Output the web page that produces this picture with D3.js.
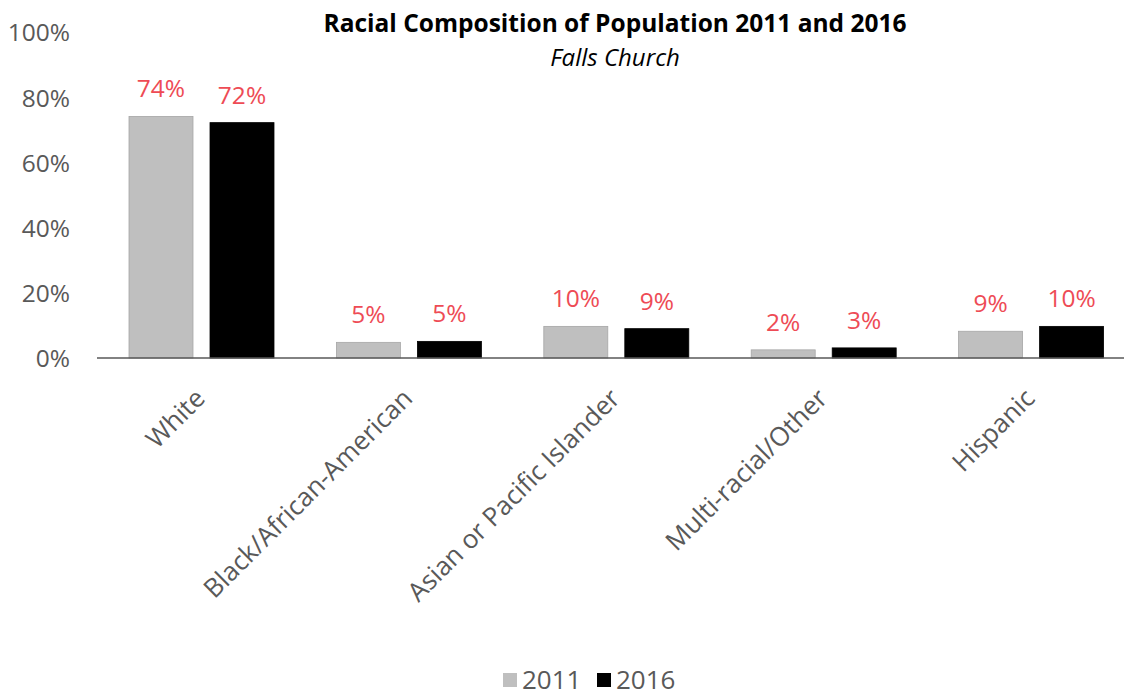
<!DOCTYPE html>
<html>
<head>
<meta charset="utf-8">
<script src="https://cdn.jsdelivr.net/npm/d3@7"></script>
<style>
  body { margin: 0; background: #fff; }
  text { font-family: "Open Sans", Calibri, sans-serif; }
</style>
</head>
<body>
<svg width="1124" height="694"></svg>
<script>
var svg = d3.select("svg");

// data
var categories = ["White", "Black/African-American", "Asian or Pacific Islander", "Multi-racial/Other", "Hispanic"];
var years = ["2011", "2016"];
var values2011 = [0.741, 0.048, 0.097, 0.025, 0.082];
var values2016 = [0.722, 0.051, 0.090, 0.031, 0.097];
var labels2011 = ["74%", "5%", "10%", "2%", "9%"];
var labels2016 = ["72%", "5%", "9%", "3%", "10%"];
var yTicks = [0, 0.2, 0.4, 0.6, 0.8, 1];
var colors = ["#bfbfbf", "#000000"];

var rows = categories.map(function(c, i){
    return [
        { cat: c, year: "2011", v: values2011[i], label: labels2011[i] },
        { cat: c, year: "2016", v: values2016[i], label: labels2016[i] }
    ];
});

var x0 = d3.scaleBand().domain(categories).range([98, 1135]);
var x1 = d3.scaleBand().domain(years).range([31, 176]).paddingInner(0.21);
var y = d3.scaleLinear().domain([0, 1]).range([358, 32]);
var color = d3.scaleOrdinal().domain(years).range(colors);

// y axis labels only
var yAxis = svg.append("g")
    .attr("transform", "translate(70,0)")
    .call(d3.axisLeft(y).tickValues(yTicks).tickFormat(d3.format(".0%")).tickSize(0).tickPadding(0));
yAxis.select(".domain").remove();
yAxis.selectAll("text")
    .attr("fill", "#595959")
    .style("font-size", "24.5px")
    .attr("dy", "0.36em");

// bars
var group = svg.append("g").selectAll("g")
    .data(rows)
    .enter()
    .append("g")
    .attr("transform", function(d){
        return "translate(" + x0(d[0].cat) + ",0)";
    });

group.selectAll("rect")
    .data(function(d){ return d; })
    .enter()
    .append("rect")
    .attr("x", function(d){ return x1(d.year); })
    .attr("y", function(d){ return y(d.v); })
    .attr("width", x1.bandwidth())
    .attr("height", function(d){ return y(0) - y(d.v); })
    .attr("fill", function(d){ return color(d.year); })
    .attr("stroke", function(d){ return d.year == "2011" ? "#a6a6a6" : "#000"; })
    .attr("stroke-width", 0.8);

group.selectAll("text.val")
    .data(function(d){ return d; })
    .enter()
    .append("text")
    .attr("class", "val")
    .attr("x", function(d){ return x1(d.year) + x1.bandwidth() / 2; })
    .attr("y", function(d){ return y(d.v) - 19; })
    .attr("text-anchor", "middle")
    .attr("fill", "#ee4b55")
    .style("font-size", "24.5px")
    .text(function(d){ return d.label; });

// x axis line + rotated labels
var xAxis = svg.append("g")
    .attr("transform", "translate(0,358)")
    .call(d3.axisBottom(x0).tickSize(0).tickPadding(0));
xAxis.select(".domain")
    .attr("d", "M97,0H1124")
    .attr("stroke", "#595959")
    .attr("stroke-width", 1.5);
xAxis.selectAll("text")
    .attr("fill", "#595959")
    .style("font-size", "26px")
    .attr("text-anchor", "end")
    .attr("dy", null)
    .attr("y", null)
    .attr("transform", "translate(5,42) rotate(-45)");

// title
svg.append("text")
    .attr("x", 615)
    .attr("y", 32)
    .attr("text-anchor", "middle")
    .style("font-size", "24.5px")
    .style("font-weight", "bold")
    .attr("fill", "#000")
    .text("Racial Composition of Population 2011 and 2016");
svg.append("text")
    .attr("x", 615)
    .attr("y", 66)
    .attr("text-anchor", "middle")
    .style("font-size", "24px")
    .style("font-style", "italic")
    .attr("fill", "#000")
    .text("Falls Church");

// legend
var legend = svg.append("g").selectAll("g")
    .data(years)
    .enter()
    .append("g")
    .attr("transform", function(d, i){
        return "translate(" + (503 + i * 94) + ",673)";
    });
legend.append("rect")
    .attr("width", 14)
    .attr("height", 14)
    .attr("fill", function(d){ return color(d); });
legend.append("text")
    .attr("x", 19)
    .attr("y", 15.5)
    .attr("fill", "#595959")
    .style("font-size", "26px")
    .text(function(d){ return d; });
</script>
</body>
</html>
